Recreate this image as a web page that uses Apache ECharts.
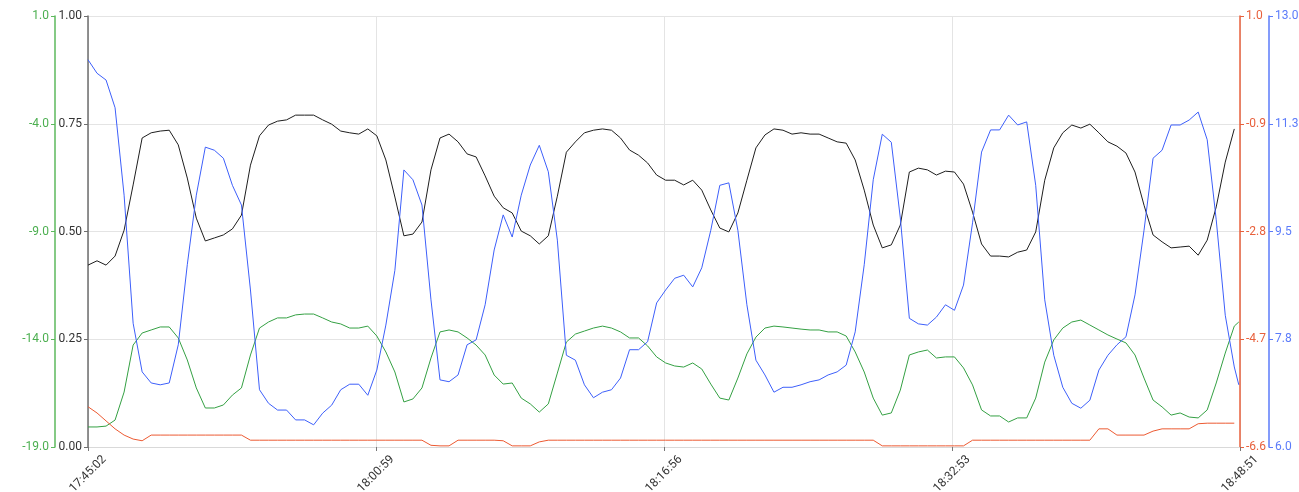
<!DOCTYPE html>
<html>
<head>
<meta charset="utf-8">
<script src="https://cdn.jsdelivr.net/npm/echarts@6/dist/echarts.min.js"></script>
<style>
  html, body { margin: 0; padding: 0; background: #fff; }
  #chart { width: 1299px; height: 492px; }
</style>
</head>
<body>
<div id="chart"></div>
<script>
// seconds since 17:45:02
const times = [
  0,30,60,90,120,150,180,210,240,270,
  300,330,360,390,420,450,480,510,540,570,
  600,630,660,690,720,750,780,810,840,870,
  900,930,960,990,1020,1050,1080,1110,1140,1170,
  1200,1230,1260,1290,1320,1350,1380,1410,1440,1470,
  1500,1530,1560,1590,1620,1650,1680,1710,1740,1770,
  1800,1830,1860,1890,1920,1950,1980,2010,2040,2070,
  2100,2130,2160,2190,2220,2250,2280,2310,2340,2370,
  2400,2430,2460,2490,2520,2550,2580,2610,2640,2670,
  2700,2730,2760,2790,2820,2850,2880,2910,2940,2970,
  3000,3030,3060,3090,3120,3150,3180,3210,3240,3270,
  3300,3330,3360,3390,3420,3450,3480,3510,3540,3570,
  3600,3630,3660,3690,3720,3750,3780,3810,3825
]
const timeLabels = ['17:45:02', '18:00:59', '18:16:56', '18:32:53', '18:48:51']

// black, left inner axis
const blackVals = [
  0.422,0.432,0.422,0.443,0.503,0.608,0.717,0.729,0.733,0.735,
  0.701,0.624,0.531,0.478,0.485,0.492,0.506,0.538,0.654,0.722,
  0.747,0.756,0.759,0.770,0.770,0.770,0.759,0.749,0.733,0.729,
  0.726,0.738,0.722,0.666,0.580,0.490,0.494,0.522,0.643,0.717,
  0.726,0.708,0.680,0.673,0.629,0.582,0.555,0.543,0.501,0.490,
  0.471,0.490,0.582,0.684,0.708,0.729,0.735,0.738,0.735,0.717,
  0.689,0.677,0.659,0.631,0.619,0.619,0.608,0.619,0.596,0.550,
  0.508,0.499,0.543,0.619,0.694,0.724,0.738,0.735,0.726,0.729,
  0.726,0.726,0.717,0.708,0.705,0.666,0.596,0.515,0.462,0.469,
  0.515,0.638,0.647,0.643,0.631,0.640,0.638,0.610,0.545,0.471,
  0.443,0.443,0.441,0.452,0.457,0.499,0.619,0.694,0.729,0.747,
  0.740,0.749,0.729,0.708,0.698,0.682,0.638,0.561,0.492,0.476,
  0.462,0.464,0.466,0.445,0.480,0.557,0.661,0.738
]

// green, left outer axis
const greenVals = [
  -18.07,-18.07,-18.03,-17.75,-16.45,-14.27,-13.71,-13.57,-13.43,-13.43,
  -13.94,-14.96,-16.26,-17.19,-17.19,-17.05,-16.59,-16.26,-14.73,-13.48,
  -13.20,-13.01,-13.01,-12.87,-12.83,-12.83,-13.01,-13.20,-13.29,-13.48,
  -13.48,-13.39,-13.85,-14.59,-15.52,-16.91,-16.77,-16.26,-14.87,-13.66,
  -13.57,-13.66,-13.94,-14.27,-14.73,-15.66,-16.08,-16.03,-16.73,-17.00,
  -17.38,-17.00,-15.57,-14.13,-13.76,-13.62,-13.48,-13.39,-13.48,-13.66,
  -13.94,-13.94,-14.31,-14.82,-15.10,-15.24,-15.29,-15.10,-15.38,-16.08,
  -16.73,-16.82,-15.80,-14.68,-13.90,-13.48,-13.39,-13.43,-13.48,-13.53,
  -13.57,-13.57,-13.66,-13.66,-13.85,-14.59,-15.52,-16.73,-17.52,-17.42,
  -16.36,-14.73,-14.59,-14.50,-14.87,-14.82,-14.82,-15.33,-16.12,-17.28,
  -17.56,-17.56,-17.84,-17.65,-17.65,-16.73,-15.06,-14.03,-13.48,-13.20,
  -13.11,-13.34,-13.57,-13.80,-13.99,-14.17,-14.73,-15.80,-16.82,-17.14,
  -17.52,-17.42,-17.61,-17.65,-17.28,-16.03,-14.64,-13.39,-13.20
]

// red, right inner axis
const redVals = [
  -5.89,-6.00,-6.14,-6.28,-6.39,-6.46,-6.49,-6.39,-6.39,-6.39,
  -6.39,-6.39,-6.39,-6.39,-6.39,-6.39,-6.39,-6.39,-6.48,-6.48,
  -6.48,-6.48,-6.48,-6.48,-6.48,-6.48,-6.48,-6.48,-6.48,-6.48,
  -6.48,-6.48,-6.48,-6.48,-6.48,-6.48,-6.48,-6.48,-6.57,-6.58,
  -6.58,-6.48,-6.48,-6.48,-6.48,-6.48,-6.49,-6.58,-6.58,-6.58,
  -6.51,-6.48,-6.48,-6.48,-6.48,-6.48,-6.48,-6.48,-6.48,-6.48,
  -6.48,-6.48,-6.48,-6.48,-6.48,-6.48,-6.48,-6.48,-6.48,-6.48,
  -6.48,-6.48,-6.48,-6.48,-6.48,-6.48,-6.48,-6.48,-6.48,-6.48,
  -6.48,-6.48,-6.48,-6.48,-6.48,-6.48,-6.48,-6.48,-6.58,-6.58,
  -6.58,-6.58,-6.58,-6.58,-6.58,-6.58,-6.58,-6.58,-6.48,-6.48,
  -6.48,-6.48,-6.48,-6.48,-6.48,-6.48,-6.48,-6.48,-6.48,-6.48,
  -6.48,-6.48,-6.28,-6.28,-6.39,-6.39,-6.39,-6.39,-6.32,-6.28,
  -6.28,-6.28,-6.28,-6.19,-6.18,-6.18,-6.18,-6.18
]

// blue, right outer axis
const blueVals = [
  12.29,12.07,11.96,11.51,10.09,8.01,7.22,7.04,7.01,7.04,
  7.66,8.96,10.09,10.87,10.82,10.69,10.25,9.93,8.55,6.93,
  6.71,6.60,6.60,6.44,6.44,6.36,6.55,6.68,6.93,7.02,
  7.02,6.84,7.25,7.98,8.87,10.50,10.34,9.93,8.39,7.09,
  7.06,7.17,7.66,7.74,8.31,9.20,9.77,9.41,10.09,10.58,
  10.90,10.47,9.36,7.49,7.41,7.01,6.80,6.89,6.93,7.12,
  7.58,7.58,7.71,8.34,8.55,8.74,8.79,8.60,8.91,9.52,
  10.25,10.29,9.52,8.31,7.41,7.17,6.89,6.97,6.97,7.01,
  7.06,7.09,7.17,7.22,7.33,7.87,8.96,10.34,11.08,10.95,
  9.72,8.09,8.00,7.98,8.11,8.31,8.22,8.63,9.64,10.79,
  11.15,11.15,11.39,11.23,11.28,10.25,8.39,7.49,6.97,6.71,
  6.63,6.76,7.25,7.49,7.66,7.79,8.47,9.52,10.69,10.82,
  11.23,11.23,11.31,11.44,10.99,9.69,8.14,7.30,7.01
]

const xStep = 957.25
const font = 'Roboto'

const pairs = (vals) => vals.map((v, i) => [times[i], v])

const yAxisStyle = (color, lineColor, digits) => ({
  type: 'value',
  axisLine: {show: true, lineStyle: {color: lineColor, width: 1.5}},
  axisTick: {show: true, length: 4, lineStyle: {color: lineColor}},
  axisLabel: {
    color: color,
    fontFamily: font,
    fontSize: 12,
    margin: 6,
    formatter: (v) => v.toFixed(digits)
  },
  splitLine: {show: false}
})

let chart = echarts.init(document.getElementById('chart'))

chart.setOption({
  animation: false,
  grid: {left: 88, right: 59, top: 16, bottom: 45, containLabel: false, outerBoundsMode: 'none'},
  xAxis: {
    type: 'value',
    min: 0,
    max: 3829,
    interval: xStep,
    axisLine: {show: true, lineStyle: {color: '#d9d9d9'}},
    axisTick: {show: true, length: 4, lineStyle: {color: '#777'}},
    axisLabel: {
      rotate: 45,
      align: 'center',
      verticalAlign: 'middle',
      margin: 27,
      color: '#333',
      fontFamily: font,
      fontSize: 12,
      formatter: (v) => timeLabels[Math.round(v / xStep)] || ''
    },
    splitLine: {show: true, lineStyle: {color: '#e4e4e4'}}
  },
  yAxis: [
    Object.assign(yAxisStyle('#333', '#6e6e6e', 2), {
      position: 'left', min: 0, max: 1, interval: 0.25,
      splitLine: {show: true, lineStyle: {color: '#e4e4e4'}}
    }),
    Object.assign(yAxisStyle('#4caf50', '#5cb85c', 1), {
      position: 'left', offset: 33, min: -19, max: 1, interval: 5
    }),
    Object.assign(yAxisStyle('#e8603c', '#e8603c', 1), {
      position: 'right', min: -6.6, max: 1.0, interval: 1.9
    }),
    Object.assign(yAxisStyle('#5b7bfa', '#5b7bfa', 1), {
      position: 'right', offset: 29, min: 6, max: 13, interval: 1.75
    })
  ],
  series: [
    {
      name: 'black', type: 'line', yAxisIndex: 0, data: pairs(blackVals),
      showSymbol: false, lineStyle: {color: '#1e1e1e', width: 1}
    },
    {
      name: 'green', type: 'line', yAxisIndex: 1, data: pairs(greenVals),
      showSymbol: false, lineStyle: {color: '#34a043', width: 1}
    },
    {
      name: 'red', type: 'line', yAxisIndex: 2, data: pairs(redVals),
      showSymbol: false, lineStyle: {color: '#ec5a32', width: 1}
    },
    {
      name: 'blue', type: 'line', yAxisIndex: 3, data: pairs(blueVals),
      showSymbol: false, lineStyle: {color: '#3d5ffa', width: 1}
    }
  ]
})
</script>
</body>
</html>
